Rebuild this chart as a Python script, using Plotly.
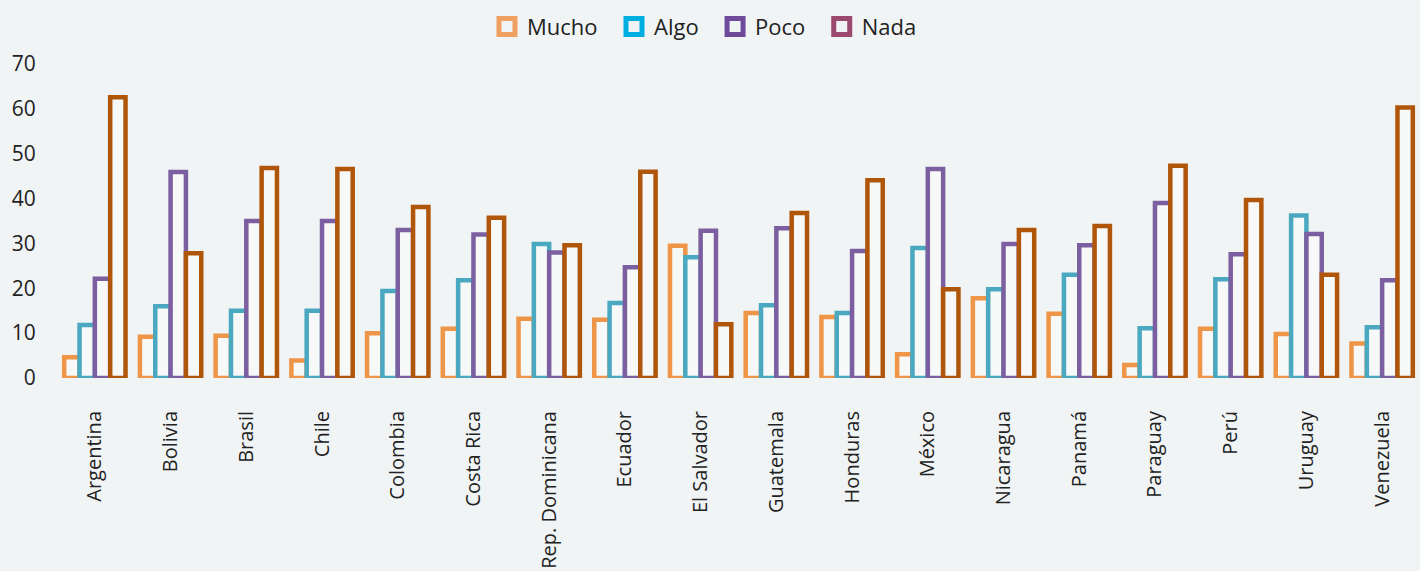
import plotly.graph_objects as go

paises = ["Argentina", "Bolivia", "Brasil", "Chile", "Colombia", "Costa Rica",
          "Rep. Dominicana", "Ecuador", "El Salvador", "Guatemala", "Honduras",
          "México", "Nicaragua", "Panamá", "Paraguay", "Perú", "Uruguay", "Venezuela"]

mucho = [4.6, 9.2, 9.4, 3.9, 10.0, 11.0, 13.2, 13.0, 29.5, 14.5, 13.6, 5.3, 17.8, 14.3, 2.9, 11.0, 9.8, 7.7]
algo = [11.8, 16.0, 15.0, 15.0, 19.4, 21.8, 29.9, 16.7, 26.9, 16.2, 14.5, 29.0, 19.8, 23.0, 11.1, 22.0, 36.2, 11.3]
poco = [22.1, 45.9, 35.0, 35.0, 33.0, 32.0, 28.0, 24.7, 32.8, 33.4, 28.3, 46.6, 29.9, 29.6, 39.0, 27.6, 32.1, 21.8]
nada = [62.6, 27.8, 46.8, 46.6, 38.1, 35.7, 29.6, 46.0, 12.0, 36.8, 44.1, 19.8, 33.0, 33.9, 47.3, 39.7, 23.0, 60.3]

series = ["Mucho", "Algo", "Poco", "Nada"]
bar_colors = ["#ee9548", "#4aa8c0", "#7b5fa0", "#b0560a"]
legend_colors = ["#f0a060", "#00aee0", "#6f4a9a", "#9b4a6e"]

bg = "#f1f4f5"
fig = go.Figure()

for name, vals, col in zip(series, [mucho, algo, poco, nada], bar_colors):
    fig.add_trace(go.Bar(x=paises, y=vals, name=name, showlegend=False,
                         marker=dict(color="#f7f8f8", line=dict(color=col, width=4.5))))

# legend entries (the legend colours differ a bit from the bars)
for name, col in zip(series, legend_colors):
    fig.add_trace(go.Scatter(x=[None], y=[None], mode="markers", name=name + "  ",
                             marker=dict(symbol="square-open", size=16, color=col,
                                         line=dict(color=col, width=5))))

fig.update_layout(
    width=1420, height=571,
    paper_bgcolor=bg, plot_bgcolor=bg,
    barmode="group", bargap=0.19, bargroupgap=0,
    margin=dict(l=57, r=0, t=64, b=193),
    font=dict(family="Open Sans", size=21, color="#222222"),
    legend=dict(orientation="h", x=0.5, xanchor="center", xref="container",
                y=0.99, yanchor="top", yref="container",
                font=dict(size=22), itemsizing="trace"),
    showlegend=True,
)
fig.update_xaxes(tickangle=-90, tickfont=dict(size=20), showgrid=False,
                 ticks="outside", ticklen=24, tickcolor=bg, showline=False)
fig.update_yaxes(range=[0, 70], dtick=10, showgrid=False, zeroline=False,
                 tickfont=dict(size=21), ticks="outside", ticklen=16, tickcolor=bg)

fig.write_html("out.html", config={"displayModeBar": False}, post_script=(
    "document.body.style.margin='0';"
    "document.body.style.background='" + bg + "';"))
